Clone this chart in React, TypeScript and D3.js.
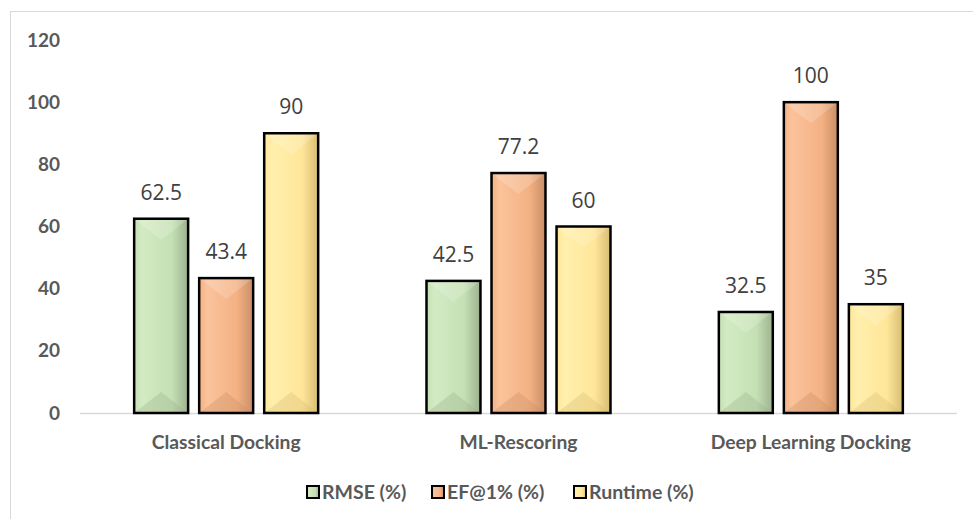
import React from "react";
import * as d3 from "d3";

const categories = ["Classical Docking", "ML-Rescoring", "Deep Learning Docking"];
const seriesNames = ["RMSE (%)", "EF@1% (%)", "Runtime (%)"];
const rmse = [62.5, 42.5, 32.5];
const ef = [43.4, 77.2, 100];
const runtime = [90, 60, 35];
const yTicks = [0, 20, 40, 60, 80, 100, 120];

const seriesValues = [rmse, ef, runtime];
const palette = [
  { light: "#d3ebc3", base: "#c5e0b4", dark: "#9db18f" },
  { light: "#fbc39c", base: "#f4b183", dark: "#c98e66" },
  { light: "#fff0ad", base: "#ffe699", dark: "#d6bd73" },
];

const W = 973;
const H = 519;
const left = 80;
const right = 957;
const y0 = 413;

export default function App() {
  const x = d3.scaleBand<string>().domain(categories).range([left, right]).paddingInner(0).paddingOuter(0);
  const step = x.step();
  const groupW = 184;
  const inner = d3
    .scaleBand<string>()
    .domain(seriesNames)
    .range([(step - groupW) / 2, (step + groupW) / 2])
    .paddingInner(0.17)
    .paddingOuter(0);
  const y = d3.scaleLinear().domain([0, 120]).range([y0, 40]);
  const bw = inner.bandwidth();
  const gray = "#595959";
  const bold = "Lato, 'Open Sans', sans-serif";

  const legendX = [306, 431, 573];

  return (
    <div style={{ position: "absolute", left: 0, top: 0 }}>
      <svg width={W} height={H} style={{ display: "block" }}>
        <defs>
          {palette.map((p, i) => (
            <linearGradient key={i} id={`g${i}`} x1="0" x2="1" y1="0" y2="0">
              <stop offset="0" stopColor={p.base} />
              <stop offset="0.15" stopColor={p.light} />
              <stop offset="0.7" stopColor={p.base} />
              <stop offset="1" stopColor={p.dark} />
            </linearGradient>
          ))}
        </defs>
        <rect x={0} y={0} width={W} height={H} fill="#fff" />
        <rect x={10.5} y={11.5} width={W + 20} height={H + 20} fill="none" stroke="#d9d9d9" strokeWidth={1} />

        {yTicks.map((t) => (
          <text
            key={t}
            x={60}
            y={y(t)}
            dy="0.35em"
            textAnchor="end"
            fontFamily={bold}
            fontWeight={700}
            fontSize={19}
            fill={gray}
          >
            {t}
          </text>
        ))}

        <line x1={left} x2={right} y1={y0 + 0.5} y2={y0 + 0.5} stroke="#d9d9d9" strokeWidth={1.5} />

        {categories.map((c, ci) => (
          <g key={c}>
            {seriesNames.map((s, si) => {
              const v = seriesValues[si][ci];
              const bx = (x(c) as number) + (inner(s) as number);
              const by = y(v);
              const bh = y0 - by;
              const bev = Math.min(bw / 2, bh / 2, 21);
              const p = palette[si];
              return (
                <g key={s}>
                  <rect x={bx} y={by} width={bw} height={bh} fill={`url(#g${si})`} />
                  <polygon
                    points={`${bx},${by} ${bx + bw},${by} ${bx + bw / 2},${by + bev}`}
                    fill="#ffffff"
                    opacity={0.18}
                  />
                  <polygon
                    points={`${bx},${y0} ${bx + bw},${y0} ${bx + bw / 2},${y0 - bev}`}
                    fill={p.dark}
                    opacity={0.35}
                  />
                  <rect x={bx} y={by} width={bw} height={bh} fill="none" stroke="#000" strokeWidth={2.5} />
                  <text
                    x={bx + bw / 2}
                    y={by - 19}
                    textAnchor="middle"
                    fontFamily="'Open Sans', sans-serif"
                    fontSize={21}
                    fill="#404040"
                  >
                    {v}
                  </text>
                </g>
              );
            })}
            <text
              x={(x(c) as number) + step / 2}
              y={449}
              textAnchor="middle"
              fontFamily={bold}
              fontWeight={700}
              fontSize={19.3}
              fill={gray}
            >
              {c}
            </text>
          </g>
        ))}

        {seriesNames.map((s, si) => (
          <g key={s}>
            <rect x={legendX[si] + 1} y={486} width={12} height={12} fill={`url(#g${si})`} stroke="#000" strokeWidth={2} />
            <text
              x={legendX[si] + 16}
              y={492}
              dy="0.35em"
              fontFamily={bold}
              fontWeight={700}
              fontSize={19.5}
              fill={gray}
            >
              {s}
            </text>
          </g>
        ))}
      </svg>
    </div>
  );
}
